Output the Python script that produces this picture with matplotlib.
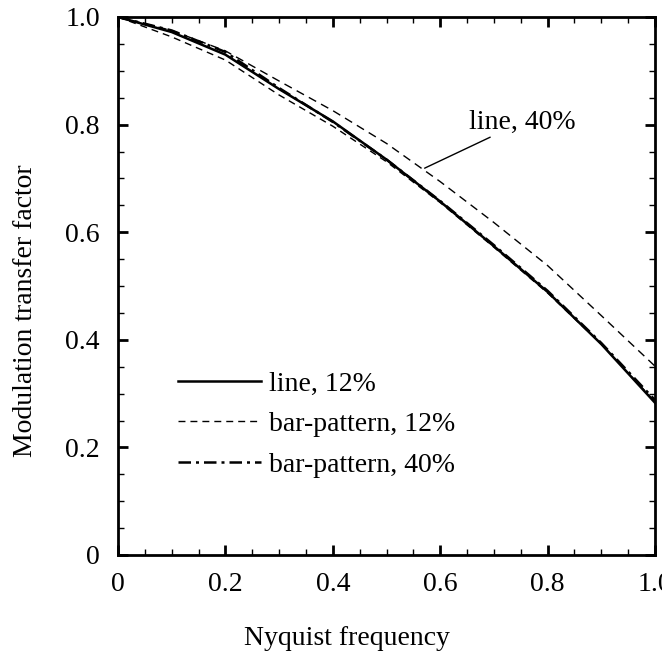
import matplotlib
matplotlib.use("Agg")
import matplotlib.pyplot as plt
from matplotlib.ticker import MultipleLocator

plt.rcParams['font.family'] = ['Liberation Serif', 'DejaVu Serif']

x = [0.0, 0.1, 0.2, 0.3, 0.4, 0.5, 0.6, 0.7, 0.8, 0.9, 1.0]
line_12 = [1.0, 0.972, 0.930, 0.866, 0.806, 0.735, 0.657, 0.574, 0.489, 0.392, 0.283]
line_40 = [1.0, 0.975, 0.937, 0.881, 0.826, 0.765, 0.694, 0.618, 0.538, 0.445, 0.351]
bar_12 = [1.0, 0.963, 0.920, 0.855, 0.797, 0.731, 0.655, 0.572, 0.487, 0.392, 0.285]
bar_40 = [1.0, 0.975, 0.935, 0.868, 0.805, 0.735, 0.658, 0.576, 0.491, 0.394, 0.288]

xticks = [0, 0.2, 0.4, 0.6, 0.8, 1.0]
xticklabels = ['0', '0.2', '0.4', '0.6', '0.8', '1.0']
yticks = [0, 0.2, 0.4, 0.6, 0.8, 1.0]
yticklabels = ['0', '0.2', '0.4', '0.6', '0.8', '1.0']

FS = 20

fig = plt.figure(figsize=(6.62, 6.54), dpi=100)
ax = fig.add_axes([118/662, 1 - 555/654, 537/662, 538/654])

ax.plot(x, line_12, color='black', lw=1.8, ls='-', label='line, 12%')
ax.plot(x, bar_12, color='black', lw=1.0, ls=(0, (5, 3.6)), label='bar-pattern, 12%')
ax.plot(x, bar_40, color='black', lw=1.8, ls=(0, (5, 2, 1.2, 2)), label='bar-pattern, 40%')
ax.plot(x, line_40, color='black', lw=1.0, ls=(0, (6, 4)))

ax.annotate('line, 40%', xy=(0.571, 0.719), xytext=(0.654, 0.805),
            ha='left', va='center', fontsize=FS,
            arrowprops=dict(arrowstyle='-', color='black', lw=1.0, shrinkA=0, shrinkB=0))

ax.set_xlim(0, 1.0)
ax.set_ylim(0, 1.0)
ax.set_xticks(xticks)
ax.set_xticklabels(xticklabels)
ax.set_yticks(yticks)
ax.set_yticklabels(yticklabels)
ax.xaxis.set_minor_locator(MultipleLocator(0.05))
ax.yaxis.set_minor_locator(MultipleLocator(0.05))
ax.tick_params(which='both', direction='in', top=True, right=True, labelsize=FS)
ax.tick_params(which='major', length=7, width=2)
ax.tick_params(which='minor', length=4.5, width=1)
ax.tick_params(axis='y', which='major', pad=13)
ax.tick_params(axis='x', which='major', pad=12)
for s in ax.spines.values():
    s.set_linewidth(2)

ax.set_xlabel('Nyquist frequency', fontsize=FS, labelpad=21)
ax.set_ylabel('Modulation transfer factor', fontsize=FS, labelpad=20)
ax.xaxis.label.set_x(0.426)
ax.yaxis.label.set_y(0.455)

leg = ax.legend(loc='upper left', bbox_to_anchor=(0.111, 0.342), frameon=False,
                fontsize=FS, handlelength=3.0, handletextpad=0.3,
                labelspacing=0.55, borderpad=0, borderaxespad=0)

fig.savefig('out.png', dpi=100)
